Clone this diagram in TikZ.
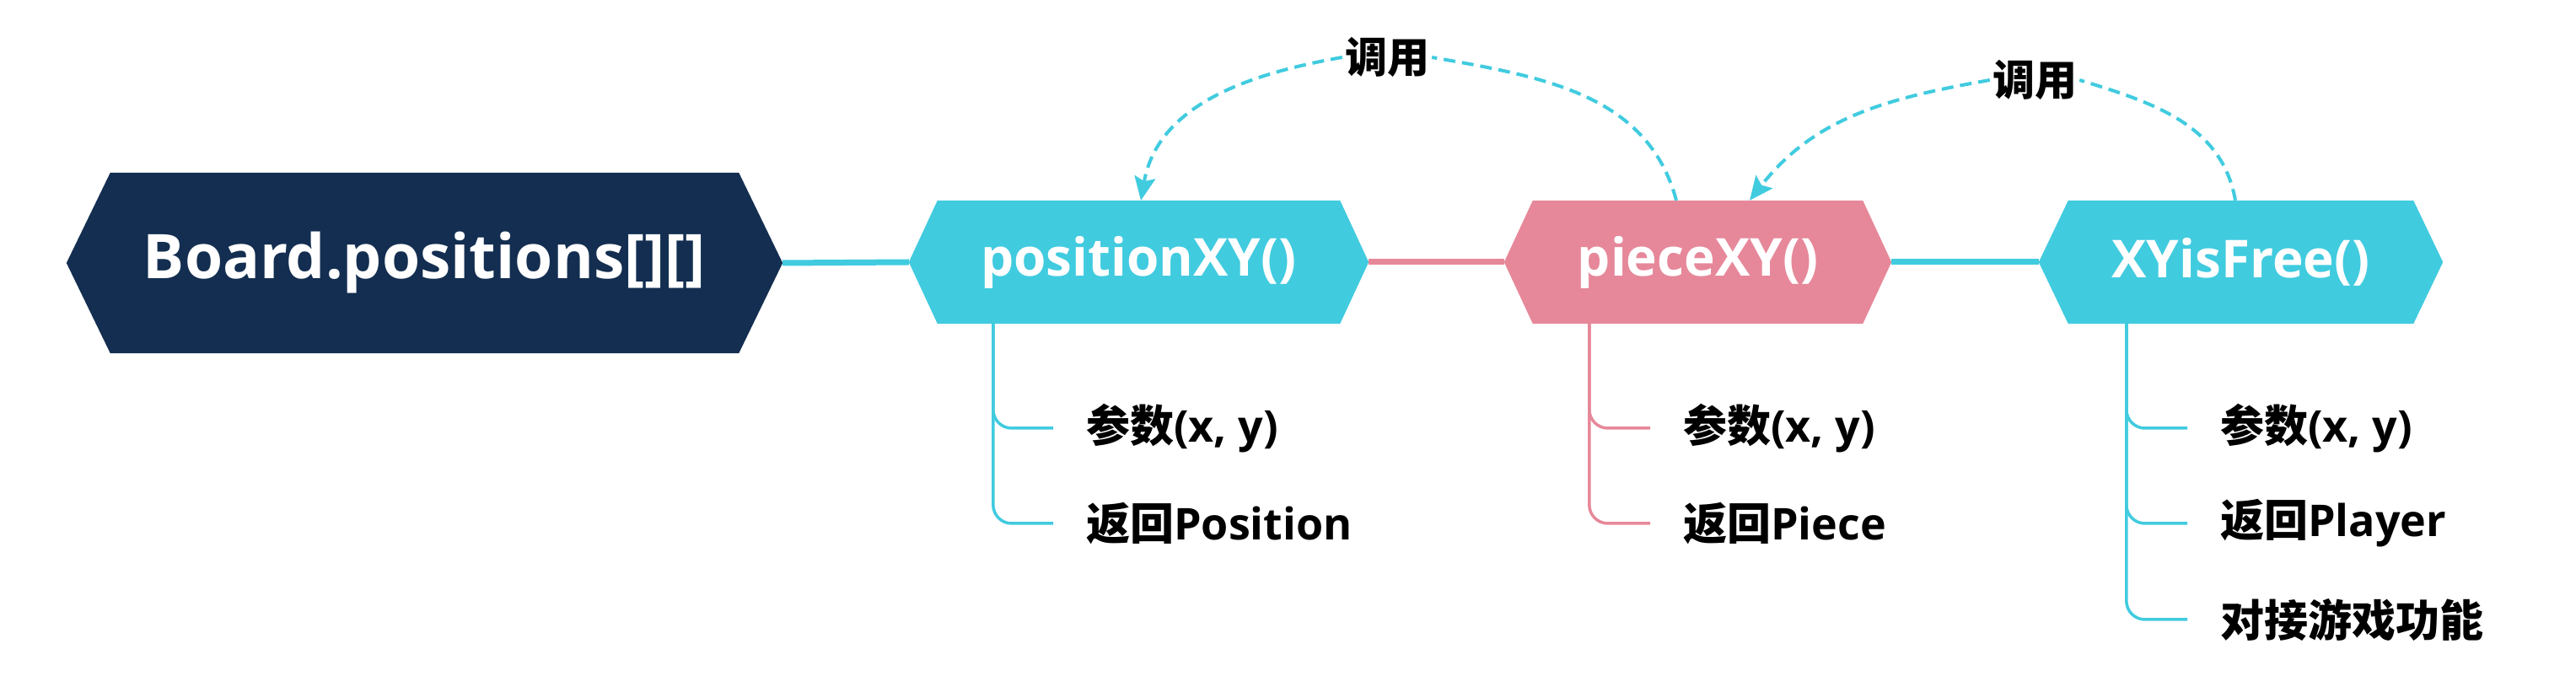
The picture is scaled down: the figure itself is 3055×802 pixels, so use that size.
\documentclass[tikz,border=0pt]{standalone}
\usepackage{fontspec}
\setmainfont{Open Sans}
\newfontfamily\cjk{Noto Sans CJK SC}
\usetikzlibrary{arrows.meta,backgrounds,calc}
\definecolor{navy}{HTML}{132E50}
\definecolor{cyanc}{HTML}{41CBDF}
\definecolor{pinkc}{HTML}{E6889A}
\newcommand\myhex[3]{\fill[#3] (#1.west) -- ([xshift=#2]#1.north west) -- ([xshift=-#2]#1.north east) -- (#1.east) -- ([xshift=-#2]#1.south east) -- ([xshift=#2]#1.south west) -- cycle;}
\begin{document}
\begin{tikzpicture}[x=1pt,y=1pt,
  hexnode/.style={rectangle, inner sep=0pt, text=white, font=\fontsize{62}{70}\selectfont\bfseries},
  item/.style={anchor=west, inner sep=0pt, text=black, font=\fontsize{52}{60}\selectfont\bfseries},
  calllab/.style={inner sep=3pt, text=black, font=\cjk\fontsize{50}{58}\selectfont\bfseries},
  mainline/.style={line width=7pt},
  branch/.style={line width=3.5pt, rounded corners=22pt},
  callline/.style={cyanc, line width=4pt, dash pattern=on 14pt off 8pt},
  callarrow/.style={callline, -{Stealth[length=28pt,width=25pt,inset=5pt]}},
]
\useasboundingbox (0,0) rectangle (3055,802);

\node[hexnode, minimum width=849pt, minimum height=214pt, font=\fontsize{73}{82}\selectfont\bfseries] (board) at (503.5,490) {Board.positions[][]};
\node[hexnode, minimum width=545pt, minimum height=146pt] (pos) at (1350.5,491) {positionXY()};
\node[hexnode, minimum width=459pt, minimum height=146pt] (piece) at (2013.5,491) {pieceXY()};
\node[hexnode, minimum width=479pt, minimum height=146pt] (free) at (2657.5,491) {XYisFree()};

\begin{scope}[on background layer]
  \myhex{board}{52pt}{navy}
  \myhex{pos}{34pt}{cyanc}
  \myhex{piece}{34pt}{pinkc}
  \myhex{free}{35pt}{cyanc}
\end{scope}

\draw[mainline, cyanc] (board.east) -- (pos.west);
\draw[mainline, pinkc] (pos.east) -- (piece.west);
\draw[mainline, cyanc] (piece.east) -- (free.west);

% items
\node[item] (p1) at (1288,294) {{\cjk 参数}(x, y)};
\node[item] (p2) at (1288,181) {{\cjk 返回}Position};
\node[item] (q1) at (1996,294) {{\cjk 参数}(x, y)};
\node[item] (q2) at (1996,181) {{\cjk 返回}Piece};
\node[item] (f1) at (2633,294) {{\cjk 参数}(x, y)};
\node[item] (f2) at (2633,181) {{\cjk 返回}Player};
\node[item] (f3) at (2633,67) {{\cjk 对接游戏功能}};

\coordinate (pv) at ([xshift=100pt]pos.south west);
\coordinate (qv) at ([xshift=101pt]piece.south west);
\coordinate (fv) at ([xshift=104pt]free.south west);
\draw[branch, cyanc] (pv) |- ([xshift=-39pt]p1.west);
\draw[branch, cyanc] (pv) |- ([xshift=-39pt]p2.west);
\draw[branch, pinkc] (qv) |- ([xshift=-39pt]q1.west);
\draw[branch, pinkc] (qv) |- ([xshift=-39pt]q2.west);
\draw[branch, cyanc] (fv) |- ([xshift=-39pt]f1.west);
\draw[branch, cyanc] (fv) |- ([xshift=-39pt]f2.west);
\draw[branch, cyanc] (fv) |- ([xshift=-39pt]f3.west);

% call labels and arcs
\node[calllab] (call1) at (1645,734) {调用};
\node[calllab] (call2) at (2413,707) {调用};
\coordinate (a1) at ([xshift=-25.5pt]piece.north);
\coordinate (b1) at ([xshift=2.5pt]pos.north);
\coordinate (a2) at ([xshift=-6.5pt]free.north);
\coordinate (b2) at ([xshift=61.5pt]piece.north);
\draw[callline] (a1) to[out=105,in=-10] (call1.east);
\draw[callarrow] (call1.west) to[out=190,in=80] (b1);
\draw[callline] (a2) to[out=100,in=-17] (call2.east);
\draw[callarrow] (call2.west) to[out=190,in=52] (b2);
\end{tikzpicture}
\end{document}
